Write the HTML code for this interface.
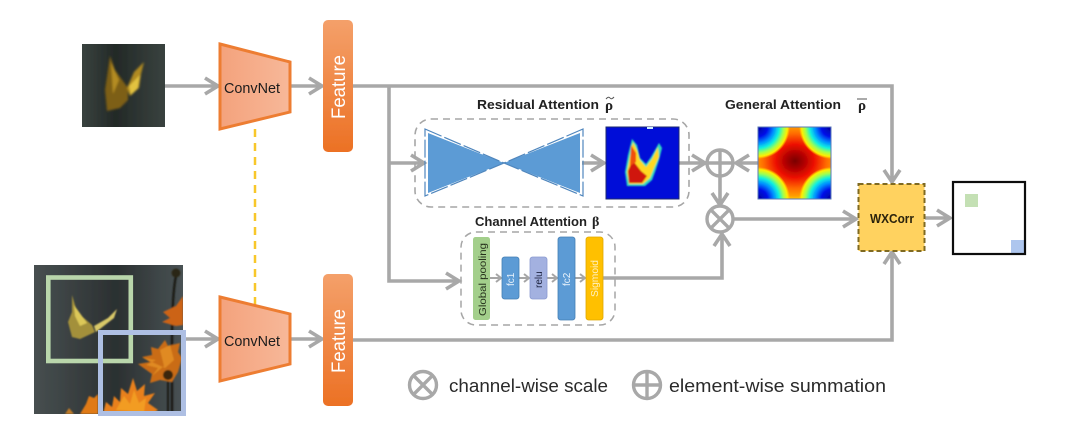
<!DOCTYPE html>
<html><head><meta charset="utf-8"><style>
html,body{margin:0;padding:0;background:#fff;width:1080px;height:425px;overflow:hidden}
svg{display:block}
text{font-family:"Liberation Sans",sans-serif}
</style></head><body>
<svg width="1080" height="425" viewBox="0 0 1080 425" xmlns="http://www.w3.org/2000/svg">
<defs>
<filter id="b0" filterUnits="userSpaceOnUse" x="0" y="0" width="1080" height="425"><feGaussianBlur stdDeviation="0.35"/></filter>
<filter id="b1" x="-10%" y="-10%" width="120%" height="120%"><feGaussianBlur stdDeviation="0.7"/></filter>
<filter id="b2" x="-20%" y="-20%" width="140%" height="140%"><feGaussianBlur stdDeviation="1.1"/></filter>
<linearGradient id="fe" x1="0" y1="0" x2="0" y2="1"><stop offset="0" stop-color="#f4a06a"/><stop offset="1" stop-color="#ec7124"/></linearGradient>
<linearGradient id="tr" x1="0" y1="0" x2="1" y2="0"><stop offset="0" stop-color="#f4a27c"/><stop offset="1" stop-color="#f7b899"/></linearGradient>
<linearGradient id="bg1" x1="0" y1="0" x2="1" y2="0"><stop offset="0" stop-color="#39423f"/><stop offset=".4" stop-color="#232927"/><stop offset="1" stop-color="#39423f"/></linearGradient>
<linearGradient id="bg2" x1="0" y1="0" x2="1" y2="0"><stop offset="0" stop-color="#474f50"/><stop offset=".3" stop-color="#383e3f"/><stop offset=".55" stop-color="#2b3031"/><stop offset="1" stop-color="#495254"/></linearGradient>
<radialGradient id="hc"><stop offset="0" stop-color="#7a0000"/><stop offset=".18" stop-color="#a80000"/><stop offset=".42" stop-color="#ee1000"/><stop offset=".68" stop-color="#ff6a00"/><stop offset=".88" stop-color="#ffa000"/><stop offset="1" stop-color="#ffc000" stop-opacity="0"/></radialGradient>
<radialGradient id="hb"><stop offset="0" stop-color="#00009c"/><stop offset=".3" stop-color="#0010e8"/><stop offset=".5" stop-color="#0090ff"/><stop offset=".66" stop-color="#10f0e0"/><stop offset=".8" stop-color="#a0ff50"/><stop offset=".92" stop-color="#ffee00"/><stop offset="1" stop-color="#ffe000" stop-opacity="0"/></radialGradient>
<clipPath id="hm"><rect x="758" y="127" width="73" height="72"/></clipPath>
<clipPath id="im2"><rect x="34" y="265" width="149" height="149"/></clipPath>
</defs>
<g filter="url(#b0)">

<!-- yellow dashed link -->
<line x1="255" y1="129" x2="255" y2="306" stroke="#f8c72a" stroke-width="2.500" stroke-dasharray="8 6"/>

<!-- connectors -->
<g fill="none" stroke="#a8a8a8" stroke-width="3.600" stroke-linejoin="miter">
<path d="M165 86H218M205 78l13 8-13 8"/>
<path d="M290 86H322M309 78l13 8-13 8"/>
<path d="M353 86H892V182M884 170l8 12 8-12"/>
<path d="M389 86V281H458M446 273l13 8-13 8"/>
<path d="M389 163H423M411 155l13 8-13 8"/>
<path d="M582 163H604M591 155l13 8-13 8"/>
<path d="M678 163H705M692 155l13 8-13 8"/>
<path d="M758 163H736M749 155l-13 8 13 8"/>
<path d="M720 176V205M712 193l8 12 8-12"/>
<path d="M603 278H722V234M714 246l8-12 8 12"/>
<path d="M733 219H856M843 211l13 8-13 8"/>
<path d="M925 218H950M937 210l13 8-13 8"/>
<path d="M184 339H218M205 331l13 8-13 8"/>
<path d="M290 339H322M309 331l13 8-13 8"/>
<path d="M353 340H892V252M884 264l8-12 8 12"/>
</g>

<!-- top image -->
<rect x="82" y="44" width="83" height="83" fill="url(#bg1)"/>
<g filter="url(#b2)">
<path d="M110 56L115 70 128 88 128 100 120 108 107 111 105 90Z" fill="#7d5f18"/>
<path d="M111 62L119 80 113 94Z" fill="#b48c24"/>
<path d="M144 62L141 74 139 88 130 96 127 88 134 72Z" fill="#b08a20"/>
<path d="M140 75L138 88 131 95 129 86Z" fill="#e2c240"/>
</g>

<!-- bottom image -->
<g clip-path="url(#im2)">
<rect x="34" y="265" width="149" height="149" fill="url(#bg2)"/>
<g filter="url(#b1)">
<path d="M72 295L77 312 92 325 95 332 80 339 72 337 68 322 72 312Z" fill="#a3903a"/>
<path d="M74 305L87 323 80 326 75 316Z" fill="#dcc858"/>
<path d="M94 326L108 318 117 309 114 318 96 332Z" fill="#d8c868"/>
<path d="M177 272C173 285 172 320 172 345V414" fill="none" stroke="#1c1b12" stroke-width="2.500"/>
<path d="M168 362V414" fill="none" stroke="#1c1b12" stroke-width="2"/>
<circle cx="176" cy="273" r="4.500" fill="#2a2616"/>
<path d="M183 296L176 306 163 312 170 318 162 322 176 326 183 325Z" fill="#cc6318"/>
<path d="M138 364L150 362 142 357 152 355 151 347 158 349 165 340 168 346 180 343 178 352 182 358 178 372 172 382 160 380 150 383 152 374Z" fill="#c96c16"/>
<path d="M143 358L156 360 146 365 158 368 152 376 164 366 160 350 170 345 174 360 165 368Z" fill="#e08a20"/>
<circle cx="168" cy="375" r="5" fill="#3a2810"/>
<path d="M103 414L106 402 112 407 114 396 120 402 121 388 128 394 133 378 137 391 145 384 144 396 155 393 148 403 158 410 150 415H103Z" fill="#e8801a"/>
<path d="M116 410L124 396 130 404 134 390 139 403 146 398 144 412Z" fill="#f29c24"/>
<path d="M80 414L86 404 89 396 94 398 98 394V414H80Z" fill="#e07a18"/>
<path d="M65 414L69 408 74 414Z" fill="#c07a28"/>
</g></g>
<rect x="48.300" y="277.500" width="82.500" height="83.500" fill="none" stroke="#b9d6ab" stroke-width="4.600"/>
<rect x="100.500" y="332.500" width="83" height="81" fill="none" stroke="#aebfe3" stroke-width="5"/>

<!-- ConvNet -->
<path d="M220 44L290 62V112L220 129Z" fill="url(#tr)" stroke="#ed7d31" stroke-width="3"/>
<path d="M220 297L290 314V364L220 381Z" fill="url(#tr)" stroke="#ed7d31" stroke-width="3"/>
<text x="224" y="93" font-size="15" fill="#1c1c1c" textLength="56" lengthAdjust="spacingAndGlyphs">ConvNet</text>
<text x="224" y="346" font-size="15" fill="#1c1c1c" textLength="56" lengthAdjust="spacingAndGlyphs">ConvNet</text>

<!-- Features -->
<rect x="323" y="20" width="30" height="132" rx="5" fill="url(#fe)"/>
<rect x="323" y="274" width="30" height="132" rx="5" fill="url(#fe)"/>
<text transform="translate(345,119) rotate(-90)" font-size="19" fill="#fff" textLength="64" lengthAdjust="spacingAndGlyphs">Feature</text>
<text transform="translate(345,373) rotate(-90)" font-size="19" fill="#fff" textLength="64" lengthAdjust="spacingAndGlyphs">Feature</text>

<!-- Residual attention -->
<rect x="415" y="119" width="274" height="88" rx="16" fill="none" stroke="#a6a6a6" stroke-width="1.600" stroke-dasharray="7 5"/>
<path d="M428 133L504 163 428 193ZM580 133L504 163 580 193Z" fill="#5b9bd5"/>
<path d="M425 129L504 163 425 196ZM583 129L504 163 583 196Z" fill="none" stroke="#4f86bd" stroke-width="1.200" stroke-dasharray="18 3"/>
<text x="477" y="109" font-size="13" font-weight="bold" fill="#222" textLength="122" lengthAdjust="spacingAndGlyphs">Residual Attention</text>
<text x="605" y="110" font-size="15" font-weight="bold" fill="#222" style="font-family:'Liberation Serif',serif">ρ</text>
<path d="M606 99q2.500 -3 4 -1t4 -1" fill="none" stroke="#555" stroke-width="1"/>

<!-- Residual heatmap -->
<rect x="606" y="127" width="73" height="72" fill="#0010d8" stroke="#1a2a70"/>
<rect x="647" y="127" width="6" height="2" fill="#cfeeff"/>
<g filter="url(#b1)">
<path d="M632 139L637 145 640 158 646 164 651 157 659 143 662 148 659 160 655 172 652 180 645 186 627 186 625 172 628 155Z" fill="#30d8c0"/>
<path d="M633 142L637 150 640 160 646 167 652 159 658 147 659 157 654 168 650 178 643 184 629 184 627 172 630 156Z" fill="#ffd820"/>
<path d="M634 162L641 171 647 176 642 183 629 183 628 171 631 164Z" fill="#d01408"/>
<path d="M631 145L636 153 636 162 630 166Z" fill="#f05010"/>
</g>

<!-- General attention -->
<text x="725" y="109" font-size="13" font-weight="bold" fill="#222" textLength="116" lengthAdjust="spacingAndGlyphs">General Attention</text>
<text x="858" y="110" font-size="15" font-weight="bold" fill="#222" style="font-family:'Liberation Serif',serif">ρ</text>
<line x1="857" y1="99" x2="867" y2="99" stroke="#555" stroke-width="1"/>
<g clip-path="url(#hm)">
<rect x="758" y="127" width="73" height="72" fill="#ffd000"/>
<ellipse cx="795" cy="161" rx="46" ry="40" fill="url(#hc)"/>
<circle cx="758" cy="127" r="32" fill="url(#hb)"/>
<circle cx="831" cy="127" r="32" fill="url(#hb)"/>
<circle cx="758" cy="199" r="32" fill="url(#hb)"/>
<circle cx="831" cy="199" r="32" fill="url(#hb)"/>
</g>
<rect x="758" y="127" width="73" height="72" fill="none" stroke="#5a78b8" stroke-width="1"/>

<!-- operators -->
<g fill="#fff" stroke="#a8a8a8" stroke-width="3.400">
<circle cx="720" cy="163" r="13"/><path d="M720 150V176M707 163H733" fill="none"/>
<circle cx="720" cy="219" r="13"/><path d="M711 210L729 228M729 210L711 228" fill="none"/>
<circle cx="423" cy="385" r="13.500"/><path d="M413.500 375.500L432.500 394.500M432.500 375.500L413.500 394.500" fill="none"/>
<circle cx="647" cy="385" r="13.500"/><path d="M647 371.500V398.500M633.500 385H660.500" fill="none"/>
</g>

<!-- Channel attention -->
<rect x="461" y="232" width="154" height="93" rx="15" fill="none" stroke="#a6a6a6" stroke-width="1.500" stroke-dasharray="7 5"/>
<text x="475" y="226" font-size="13" font-weight="bold" fill="#222" textLength="112" lengthAdjust="spacingAndGlyphs">Channel Attention</text>
<text x="592" y="226" font-size="14" font-weight="bold" fill="#222" style="font-family:'Liberation Serif',serif">β</text>
<g fill="none" stroke="#a6a6a6" stroke-width="2">
<path d="M490 278H501M496 274l5 4-5 4"/>
<path d="M519 278H529M524 274l5 4-5 4"/>
<path d="M547 278H557M552 274l5 4-5 4"/>
<path d="M575 278H585M580 274l5 4-5 4"/>
</g>
<rect x="473" y="237" width="17" height="83" rx="2.500" fill="#a3cf8b"/>
<rect x="502" y="257" width="17" height="42" rx="2.500" fill="#5b9bd5" stroke="#467fb4" stroke-width=".8"/>
<rect x="530" y="257" width="17" height="42" rx="2.500" fill="#a3b1e0" stroke="#8a9ad0" stroke-width=".8"/>
<rect x="558" y="237" width="17" height="83" rx="2.500" fill="#5b9bd5" stroke="#467fb4" stroke-width=".8"/>
<rect x="586" y="237" width="17" height="83" rx="2.500" fill="#ffc000" stroke="#e0a800" stroke-width=".8"/>
<text transform="translate(486,316) rotate(-90)" font-size="10.500" fill="#28331f" textLength="73" lengthAdjust="spacingAndGlyphs">Global pooling</text>
<text transform="translate(514,286) rotate(-90)" font-size="10" fill="#e8f2fb">fc1</text>
<text transform="translate(542,288) rotate(-90)" font-size="10" fill="#1f2440">relu</text>
<text transform="translate(570,286) rotate(-90)" font-size="10" fill="#e8f2fb">fc2</text>
<text transform="translate(598,297) rotate(-90)" font-size="10" fill="#fff0c0" textLength="37" lengthAdjust="spacingAndGlyphs">Sigmoid</text>

<!-- WXCorr -->
<rect x="858.500" y="184" width="66" height="67" fill="#ffd25e" stroke="#7f6a20" stroke-width="2" stroke-dasharray="5 3"/>
<text x="870" y="223" font-size="13" font-weight="bold" fill="#2a2208" textLength="44" lengthAdjust="spacingAndGlyphs">WXCorr</text>

<!-- result -->
<rect x="965" y="194" width="13" height="13" fill="#c4e0b4"/>
<rect x="1011" y="240" width="14" height="14" fill="#aec6ee"/>
<rect x="953" y="182" width="72" height="72" fill="none" stroke="#111" stroke-width="2.200"/>

<!-- legend -->
<text x="449" y="392" font-size="18" fill="#2a2a2a" textLength="159" lengthAdjust="spacingAndGlyphs">channel-wise scale</text>
<text x="669" y="392" font-size="18" fill="#2a2a2a" textLength="217" lengthAdjust="spacingAndGlyphs">element-wise summation</text>
</g>
</svg>
</body></html>
